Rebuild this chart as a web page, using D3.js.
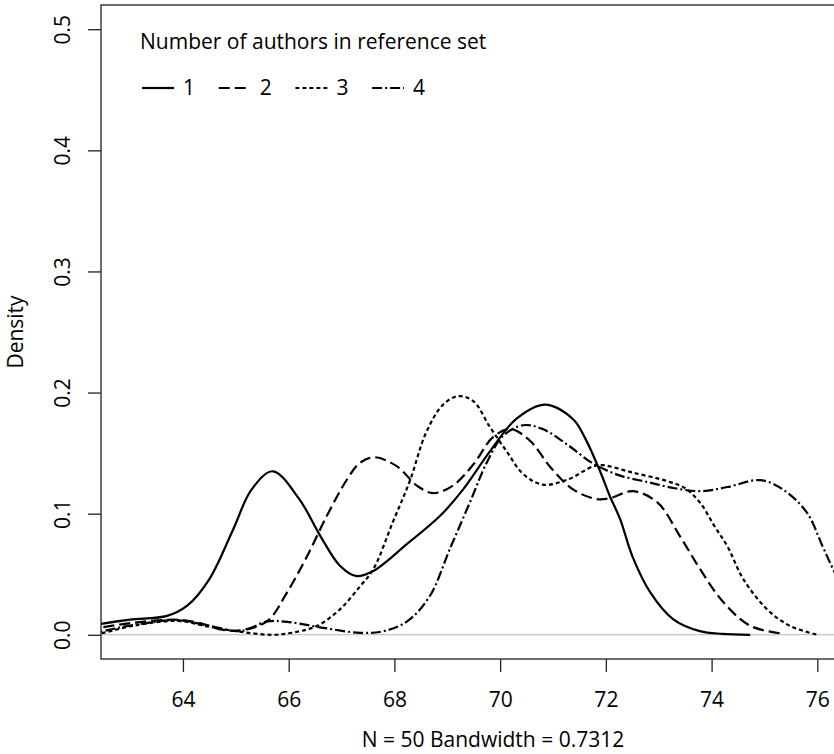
<!DOCTYPE html>
<html>
<head>
<meta charset="utf-8">
<script src="https://cdn.jsdelivr.net/npm/d3@7"></script>
<style>
  body { margin: 0; background: #fff; }
  svg { display: block; font-family: "Open Sans", sans-serif; }
</style>
</head>
<body>
<svg id="chart" width="834" height="754"></svg>
<script>
// density curves, [value, density]
const authors1 = [
  [62.2, 0.007], [62.45, 0.009], [63.0, 0.0125], [63.7, 0.0156], [64.08, 0.024],
  [64.5, 0.046], [64.95, 0.087], [65.3, 0.12], [65.7, 0.135], [66.2, 0.112],
  [66.6, 0.0815], [66.97, 0.057], [67.27, 0.0486], [67.6, 0.0527], [68.24, 0.075],
  [68.86, 0.098], [69.3, 0.12], [69.8, 0.151], [70.3, 0.178], [70.85, 0.19],
  [71.38, 0.178], [71.6, 0.163], [71.9, 0.134], [72.08, 0.114], [72.27, 0.0955],
  [72.5, 0.065], [72.84, 0.035], [73.27, 0.013], [73.78, 0.003], [74.2, 0.0008],
  [74.73, 0.0]
];
const authors2 = [
  [62.2, 0.004], [62.43, 0.0058], [63.05, 0.0099], [63.9, 0.0124], [64.3, 0.0099],
  [64.76, 0.004], [65.13, 0.004], [65.6, 0.0115], [65.97, 0.035], [66.35, 0.065],
  [66.72, 0.098], [67.1, 0.128], [67.35, 0.142], [67.63, 0.1466], [68.05, 0.139],
  [68.43, 0.123], [68.73, 0.117], [69.1, 0.123], [69.5, 0.141], [69.86, 0.163],
  [70.19, 0.17], [70.57, 0.16], [70.94, 0.139], [71.38, 0.12], [71.83, 0.112],
  [72.1, 0.113], [72.5, 0.1186], [72.97, 0.1095], [73.4, 0.0815], [73.78, 0.0544],
  [74.22, 0.027], [74.73, 0.0074], [75.33, 0.001]
];
const authors3 = [
  [62.2, 0.0], [62.43, 0.001], [63.05, 0.0074], [63.9, 0.0115], [64.5, 0.0066],
  [65.08, 0.0025], [65.7, 0.0], [66.16, 0.0025], [66.54, 0.0074], [66.97, 0.021],
  [67.35, 0.04], [67.6, 0.054], [67.97, 0.093], [68.3, 0.128], [68.6, 0.167],
  [68.92, 0.19], [69.2, 0.197], [69.49, 0.193], [69.8, 0.172], [70.13, 0.151],
  [70.43, 0.133], [70.8, 0.124], [71.27, 0.128], [71.76, 0.139], [71.95, 0.14],
  [72.5, 0.134], [73.15, 0.127], [73.5, 0.121], [73.8, 0.108], [74.05, 0.09],
  [74.3, 0.073], [74.6, 0.046], [75.05, 0.021], [75.48, 0.0074], [76.0, 0.0]
];
const authors4 = [
  [62.2, 0.001], [62.43, 0.0025], [63.05, 0.008], [63.9, 0.012], [64.5, 0.0074],
  [65.08, 0.003], [65.6, 0.011], [65.97, 0.0107], [66.54, 0.0066], [67.35, 0.0016],
  [67.8, 0.003], [68.24, 0.011], [68.67, 0.032], [69.05, 0.071], [69.43, 0.1095],
  [69.75, 0.1425], [70.05, 0.164], [70.43, 0.173], [70.8, 0.17], [71.27, 0.157],
  [71.7, 0.143], [71.95, 0.137], [72.3, 0.131], [72.8, 0.126], [73.3, 0.121],
  [73.8, 0.1186], [74.3, 0.122], [74.92, 0.1277], [75.35, 0.12], [75.8, 0.101],
  [76.1, 0.073], [76.3, 0.054], [76.6, 0.03], [77.0, 0.01], [77.4, 0.002]
];
const seriesNames = ["1", "2", "3", "4"];
const xTicks = [64, 66, 68, 70, 72, 74, 76];
const yTicks = [0.0, 0.1, 0.2, 0.3, 0.4, 0.5];
const legendTitle = "Number of authors in reference set";
const xLabel = "N = 50 Bandwidth = 0.7312";
const yLabel = "Density";

const allSeries = [authors1, authors2, authors3, authors4];
const dashes = [null, "11,5", "4,3", "10,3,2,3"];

const svg = d3.select("#chart");
// plot region (right side runs off the page like the original)
const plotLeft = 101, plotRight = 885, plotTop = 5, plotBottom = 659;

const x = d3.scaleLinear().domain([62.45, 77.28]).range([plotLeft, plotRight]);
const y = d3.scaleLinear().domain([-0.02, 0.52]).range([plotBottom, plotTop]);

svg.append("clipPath").attr("id", "plotclip")
  .append("rect").attr("x", plotLeft).attr("y", plotTop)
  .attr("width", plotRight - plotLeft).attr("height", plotBottom - plotTop);

// zero line
svg.append("line")
  .attr("x1", plotLeft).attr("x2", plotRight)
  .attr("y1", y(0)).attr("y2", y(0))
  .attr("stroke", "#b4b4b4").attr("stroke-width", 1);

const line = d3.line()
  .x(d => x(d[0]))
  .y(d => y(d[1]))
  .curve(d3.curveCatmullRom.alpha(0.5));

const g = svg.append("g").attr("clip-path", "url(#plotclip)");
allSeries.forEach((s, i) => {
  g.append("path")
    .attr("d", line(s))
    .attr("fill", "none")
    .attr("stroke", "#000")
    .attr("stroke-width", 2.2)
    .attr("stroke-dasharray", dashes[i]);
});

// box
svg.append("rect")
  .attr("x", plotLeft).attr("y", plotTop)
  .attr("width", plotRight - plotLeft).attr("height", plotBottom - plotTop)
  .attr("fill", "none").attr("stroke", "#222").attr("stroke-width", 1.3);

// x axis
const xAxis = svg.append("g")
  .attr("transform", `translate(0,${plotBottom})`)
  .call(d3.axisBottom(x).tickValues(xTicks).tickFormat(d3.format("d"))
    .tickSize(13).tickPadding(20));
xAxis.select(".domain").remove();
xAxis.selectAll("line").attr("stroke", "#222").attr("stroke-width", 1.3);
xAxis.selectAll("text").attr("font-size", 21).attr("font-family", "Open Sans").attr("fill", "#000");

// y axis, rotated labels like R
const yAxis = svg.append("g")
  .attr("transform", `translate(${plotLeft},0)`)
  .call(d3.axisLeft(y).tickValues(yTicks).tickFormat(d3.format(".1f")).tickSize(13));
yAxis.select(".domain").remove();
yAxis.selectAll("line").attr("stroke", "#222").attr("stroke-width", 1.3);
yAxis.selectAll("text")
  .attr("x", 0).attr("y", -31).attr("dy", null)
  .attr("transform", "rotate(-90)")
  .attr("text-anchor", "middle")
  .attr("font-size", 21).attr("font-family", "Open Sans").attr("fill", "#000");

// axis titles
svg.append("text")
  .attr("x", (plotLeft + plotRight) / 2).attr("y", 747)
  .attr("text-anchor", "middle").attr("font-size", 21)
  .text(xLabel);

svg.append("text")
  .attr("transform", `translate(23,${(plotTop + plotBottom) / 2}) rotate(-90)`)
  .attr("text-anchor", "middle").attr("font-size", 21)
  .text(yLabel);

// legend
const legend = svg.append("g");
legend.append("text")
  .attr("x", 140).attr("y", 49)
  .attr("font-size", 21)
  .text(legendTitle);

seriesNames.forEach((name, i) => {
  const lx = 142 + i * 76.7;
  legend.append("line")
    .attr("x1", lx).attr("x2", lx + 32)
    .attr("y1", 88).attr("y2", 88)
    .attr("stroke", "#000").attr("stroke-width", 2.2)
    .attr("stroke-dasharray", dashes[i]);
  legend.append("text")
    .attr("x", lx + 41).attr("y", 95)
    .attr("font-size", 21)
    .text(name);
});
</script>
</body>
</html>
